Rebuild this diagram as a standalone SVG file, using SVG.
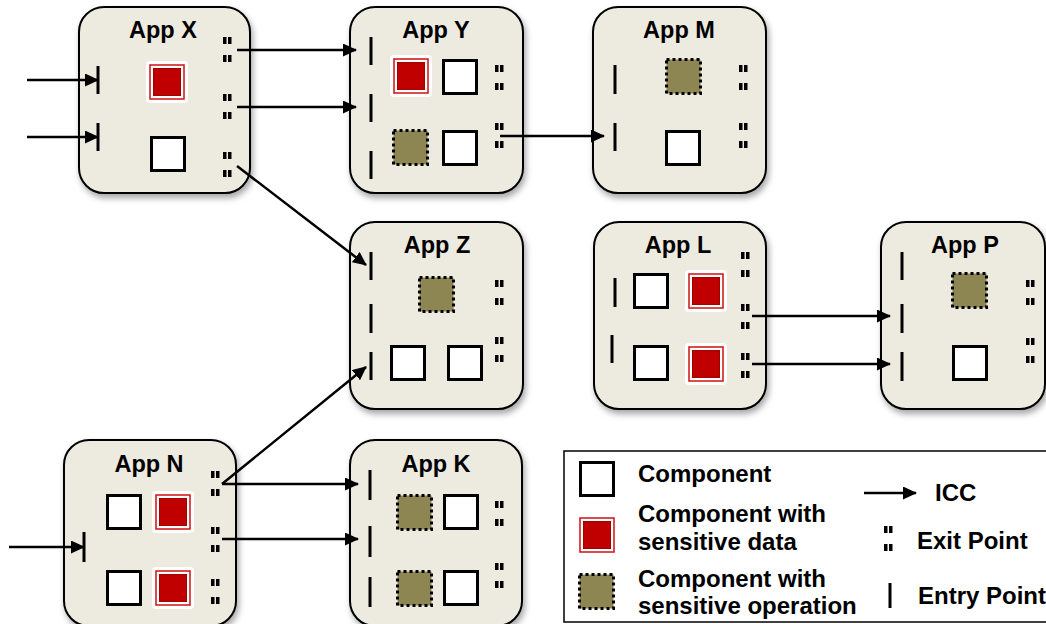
<svg xmlns="http://www.w3.org/2000/svg" xmlns:xlink="http://www.w3.org/1999/xlink" width="1046" height="624" viewBox="0 0 1046 624">
<style>
.app{fill:#EDEAE0;stroke:#000;stroke-width:2;filter:url(#sh)}
.title{font-family:"Liberation Sans",Arial,sans-serif;font-weight:bold;font-size:23.5px;fill:#000;text-anchor:middle}
.lg{font-family:"Liberation Sans",Arial,sans-serif;font-weight:bold;font-size:24px;fill:#000}
.entry{stroke:#000;stroke-width:3}
.icc{stroke:#000;stroke-width:2.5;fill:none;marker-end:url(#ah)}
</style>
<defs>
<filter id="sh" x="-10%" y="-10%" width="130%" height="130%">
<feDropShadow dx="2" dy="4" stdDeviation="3" flood-color="#000" flood-opacity="0.35"/>
</filter>
<marker id="ah" markerWidth="14" markerHeight="13" refX="13" refY="6.5" orient="auto" markerUnits="userSpaceOnUse">
<path d="M0,0 L14,6.5 L0,13 z" fill="#000"/>
</marker>
<symbol id="comp" overflow="visible">
<rect x="1.5" y="1.5" width="33" height="33" fill="#fff" stroke="#000" stroke-width="3"/>
</symbol>
<symbol id="sens" overflow="visible">
<rect x="0" y="0" width="42" height="42" rx="4" fill="#fff"/>
<rect x="4" y="4" width="34" height="34" fill="none" stroke="#D01010" stroke-width="1.5"/>
<rect x="7.5" y="7.5" width="27" height="27" fill="#C00000" stroke="#A00000" stroke-width="1"/>
</symbol>
<symbol id="oper" overflow="visible">
<rect x="1.5" y="1.5" width="34" height="34" fill="#8E8652" stroke="#000" stroke-width="3" stroke-dasharray="3 3"/>
</symbol>
<symbol id="exit" overflow="visible">
<rect x="0" y="0" width="3.5" height="7" fill="#000"/>
<rect x="5" y="0" width="3.5" height="7" fill="#000"/>
<rect x="0" y="18" width="3.5" height="7" fill="#000"/>
<rect x="5" y="18" width="3.5" height="7" fill="#000"/>
</symbol>
</defs>

<g id="appX">
<rect class="app" x="79" y="7" width="171" height="186" rx="25"/>
<text class="title" x="163" y="38">App X</text>
<use href="#sens" x="146" y="61"/>
<use href="#comp" x="150" y="136"/>
<line class="entry" x1="98" y1="66" x2="98" y2="94"/>
<line class="entry" x1="98" y1="123" x2="98" y2="151"/>
<use href="#exit" x="223" y="37"/>
<use href="#exit" x="223" y="94"/>
<use href="#exit" x="223" y="152"/>
</g>

<g id="appY">
<rect class="app" x="350" y="7" width="173" height="186" rx="25"/>
<text class="title" x="436" y="38">App Y</text>
<use href="#sens" x="390" y="55"/>
<use href="#comp" x="442" y="59"/>
<use href="#oper" x="392" y="129"/>
<use href="#comp" x="442" y="130"/>
<line class="entry" x1="371" y1="37" x2="371" y2="65"/>
<line class="entry" x1="371" y1="94" x2="371" y2="122"/>
<line class="entry" x1="371" y1="151" x2="371" y2="179"/>
<use href="#exit" x="495" y="65"/>
<use href="#exit" x="495" y="123"/>
</g>

<g id="appM">
<rect class="app" x="593" y="7" width="173" height="186" rx="25"/>
<text class="title" x="679" y="38">App M</text>
<use href="#oper" x="665" y="58"/>
<use href="#comp" x="665" y="130"/>
<line class="entry" x1="615" y1="65" x2="615" y2="94"/>
<line class="entry" x1="615" y1="123" x2="615" y2="151"/>
<use href="#exit" x="739" y="65"/>
<use href="#exit" x="739" y="123"/>
</g>

<g id="appZ">
<rect class="app" x="350" y="222" width="173" height="187" rx="25"/>
<text class="title" x="437" y="253">App Z</text>
<use href="#oper" x="418" y="276"/>
<use href="#comp" x="390" y="345"/>
<use href="#comp" x="447" y="345"/>
<line class="entry" x1="371" y1="252" x2="371" y2="280"/>
<line class="entry" x1="371" y1="304" x2="371" y2="333"/>
<line class="entry" x1="371" y1="352" x2="371" y2="380"/>
<use href="#exit" x="495" y="280"/>
<use href="#exit" x="495" y="337"/>
</g>

<g id="appL">
<rect class="app" x="594" y="222" width="172" height="187" rx="25"/>
<text class="title" x="678" y="253">App L</text>
<use href="#comp" x="633" y="273"/>
<use href="#sens" x="685" y="270"/>
<use href="#comp" x="633" y="345"/>
<use href="#sens" x="685" y="343"/>
<line class="entry" x1="615" y1="278" x2="615" y2="307"/>
<line class="entry" x1="612" y1="335" x2="612" y2="363"/>
<use href="#exit" x="741" y="252"/>
<use href="#exit" x="741" y="304"/>
<use href="#exit" x="741" y="353"/>
</g>

<g id="appP">
<rect class="app" x="881" y="222" width="164" height="187" rx="25"/>
<text class="title" x="965" y="253">App P</text>
<use href="#oper" x="951" y="272"/>
<use href="#comp" x="952" y="345"/>
<line class="entry" x1="902" y1="252" x2="902" y2="280"/>
<line class="entry" x1="902" y1="304" x2="902" y2="333"/>
<line class="entry" x1="902" y1="352" x2="902" y2="381"/>
<use href="#exit" x="1026" y="280"/>
<use href="#exit" x="1026" y="338"/>
</g>

<g id="appN">
<rect class="app" x="64" y="440" width="172" height="186" rx="25"/>
<text class="title" x="149" y="472">App N</text>
<use href="#comp" x="106" y="494"/>
<use href="#sens" x="152" y="491"/>
<use href="#comp" x="106" y="570"/>
<use href="#sens" x="152" y="567"/>
<line class="entry" x1="84" y1="532" x2="84" y2="562"/>
<use href="#exit" x="211" y="471"/>
<use href="#exit" x="211" y="527"/>
<use href="#exit" x="211" y="579"/>
</g>

<g id="appK">
<rect class="app" x="350" y="440" width="172" height="186" rx="25"/>
<text class="title" x="436" y="472">App K</text>
<use href="#oper" x="396" y="494"/>
<use href="#comp" x="443" y="494"/>
<use href="#oper" x="396" y="570"/>
<use href="#comp" x="443" y="570"/>
<line class="entry" x1="370" y1="470" x2="370" y2="500"/>
<line class="entry" x1="370" y1="526" x2="370" y2="557"/>
<line class="entry" x1="370" y1="577" x2="370" y2="607"/>
<use href="#exit" x="495" y="501"/>
<use href="#exit" x="495" y="563"/>
</g>

<g id="connectors">
<line class="icc" x1="27" y1="80" x2="98" y2="80"/>
<line class="icc" x1="27" y1="137" x2="98" y2="137"/>
<line class="icc" x1="237" y1="50" x2="356" y2="50"/>
<line class="icc" x1="237" y1="107" x2="356" y2="107"/>
<line class="icc" x1="237" y1="166" x2="366" y2="265"/>
<line class="icc" x1="500" y1="136" x2="604" y2="136"/>
<line class="icc" x1="752" y1="316" x2="890" y2="316"/>
<line class="icc" x1="752" y1="364" x2="890" y2="364"/>
<line class="icc" x1="222" y1="484" x2="366" y2="367"/>
<line class="icc" x1="222" y1="484" x2="358" y2="484"/>
<line class="icc" x1="222" y1="539" x2="358" y2="539"/>
<line class="icc" x1="9" y1="547" x2="84" y2="547"/>
</g>

<g id="legend">
<rect x="564" y="451" width="490" height="171" fill="#fff" stroke="#000" stroke-width="1.5"/>
<use href="#comp" x="579" y="461"/>
<text class="lg" x="638" y="482">Component</text>
<use href="#sens" x="576" y="514"/>
<text class="lg" x="638" y="522">Component with</text>
<text class="lg" x="638" y="550">sensitive data</text>
<use href="#oper" x="578" y="573"/>
<text class="lg" x="638" y="587">Component with</text>
<text class="lg" x="638" y="614">sensitive operation</text>
<line class="icc" x1="864" y1="493" x2="916" y2="493"/>
<text class="lg" x="935" y="501">ICC</text>
<use href="#exit" x="884" y="526"/>
<text class="lg" x="917" y="549">Exit Point</text>
<line class="entry" x1="890" y1="583" x2="890" y2="608"/>
<text class="lg" x="918" y="604">Entry Point</text>
</g>
</svg>
